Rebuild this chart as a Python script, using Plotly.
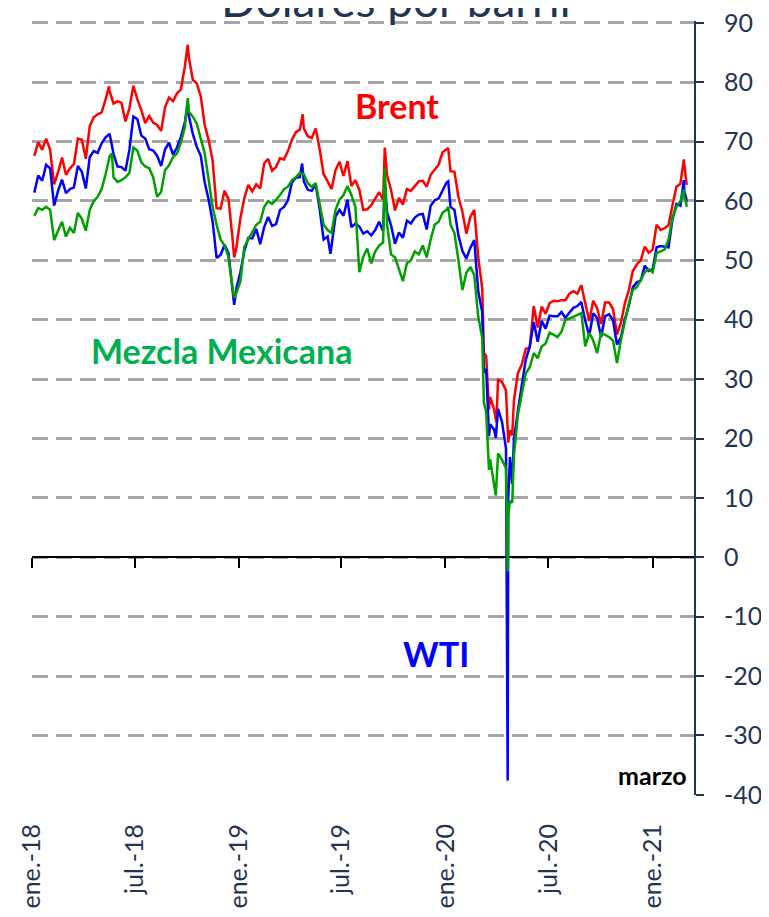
import pandas as pd
import plotly.graph_objects as go

# ---------------- data (weekly Friday closes, USD per barrel) ----------------
brent_2018 = [67.6, 69.9, 68.6, 70.5,
              68.6, 62.8, 64.8, 67.3,
              64.4, 65.5, 66.2, 70.5, 70.3,
              67.1, 72.6, 74.1, 74.6,
              74.9, 77.1, 78.5, 76.4,
              76.8, 76.5, 73.4, 75.6, 79.4,
              77.1, 75.3, 73.1, 74.3,
              73.2, 72.8, 71.8, 75.8, 77.4,
              76.8, 78.1, 78.8, 82.7,
              84.2, 80.4, 79.8, 77.6,
              72.8, 70.2, 66.8, 58.8, 58.7,
              61.7, 60.3, 53.8, 52.2]
brent_2019 = [57.1, 60.5, 62.7, 61.6,
              62.8, 62.1, 66.3, 67.1,
              65.1, 65.7, 67.2, 67.0, 68.4,
              70.3, 71.6, 72.0, 72.2,
              70.9, 70.6, 72.2, 68.7, 64.5,
              63.3, 62.0, 65.2, 66.6,
              64.2, 66.7, 62.5, 63.5,
              61.9, 58.5, 58.6, 59.3, 60.4,
              61.5, 60.2, 64.3, 61.9,
              58.4, 60.5, 59.4, 62.0,
              61.7, 62.5, 63.3, 63.4, 62.4,
              64.4, 65.2, 66.1, 68.2]
brent_2020 = [68.6, 65.0, 64.9, 60.7, 58.2,
              54.5, 57.3, 58.5, 50.5,
              45.3, 33.9, 27.0, 24.9,
              30.0, 29.5, 28.1, 21.4,
              26.4, 31.0, 32.5, 35.1, 35.3,
              42.3, 38.7, 42.2, 41.0,
              42.8, 43.2, 43.1, 43.3, 43.3,
              44.4, 44.8, 44.4, 45.8,
              42.7, 39.8, 43.2, 41.9,
              39.3, 42.9, 42.9, 41.8, 37.5,
              39.5, 42.8, 45.0, 48.2,
              49.3, 50.0, 52.3, 51.3]
brent_2021 = [51.8, 56.0, 55.1, 55.4, 55.9, 59.3, 62.4, 62.9, 66.1]

wti_2018 = [61.4, 64.3, 63.4, 66.1,
            65.5, 59.2, 61.7, 63.6,
            61.3, 62.0, 62.3, 65.9, 64.9,
            62.1, 67.4, 68.4, 68.1,
            69.7, 70.7, 71.3, 67.9,
            65.8, 65.7, 65.1, 68.6, 74.2,
            73.8, 71.0, 70.5, 68.7,
            68.5, 67.6, 65.9, 68.7, 69.8,
            67.8, 69.0, 70.8, 73.3,
            74.3, 71.3, 69.1, 67.6,
            63.1, 60.2, 56.5, 50.4, 50.9,
            52.6, 51.2, 45.6, 45.3]
wti_2019 = [48.0, 51.6, 53.8, 53.7,
            55.3, 52.7, 55.6, 57.3,
            55.8, 56.1, 58.5, 59.0, 60.1,
            63.1, 63.9, 64.0, 63.3,
            61.9, 61.7, 62.8, 58.6, 53.5,
            54.0, 52.5, 57.4, 58.5,
            57.5, 60.2, 55.6, 56.2,
            55.7, 54.5, 54.9, 54.2, 55.1,
            56.5, 54.9, 58.1, 55.9,
            52.8, 54.7, 53.8, 56.7,
            56.2, 57.2, 57.7, 57.8, 55.2,
            59.2, 60.1, 60.4, 61.7]
wti_2020 = [63.1, 59.0, 58.5, 54.2, 51.6,
            50.3, 52.1, 53.4, 44.8,
            41.3, 31.7, 22.4, 21.5,
            25.0, 22.8, 18.3, 16.9,
            19.8, 24.7, 29.4, 33.3, 35.5,
            39.6, 36.3, 39.8, 38.5,
            40.7, 40.6, 40.6, 41.3, 40.3,
            41.2, 42.0, 42.3, 43.0,
            39.8, 37.3, 41.1, 40.3,
            37.1, 40.6, 40.9, 39.9, 35.8,
            37.1, 40.1, 42.4, 45.5,
            46.3, 46.6, 49.1, 48.2]
wti_2021 = [48.5, 52.2, 52.4, 52.3, 52.2, 56.9, 59.5, 59.2, 61.5]

mme_2018 = [57.5, 58.8, 58.5, 59.0,
            58.5, 53.4, 55.0, 56.5,
            54.0, 55.5, 54.6, 58.0, 57.0,
            55.0, 58.5, 60.0, 60.7,
            62.0, 64.5, 67.5, 64.0,
            63.2, 63.5, 64.0, 64.7, 69.0,
            68.5, 66.5, 65.8, 65.5,
            64.0, 60.7, 61.5, 65.2, 66.0,
            67.4, 68.0, 69.8, 72.5,
            75.0, 74.2, 73.0, 70.5,
            68.0, 63.5, 59.0, 56.0, 53.5,
            52.5, 50.6, 45.5, 44.5]
mme_2019 = [46.5, 52.3, 53.5, 54.6,
            56.0, 56.5, 59.0, 60.0,
            59.5, 60.2, 61.0, 62.0, 62.4,
            63.5, 64.0, 64.7, 64.5,
            63.0, 62.4, 63.0, 59.7, 56.0,
            55.1, 54.6, 58.5, 60.2,
            61.0, 62.5, 61.0, 59.0,
            48.0, 50.6, 52.0, 49.5, 51.5,
            52.5, 53.0, 56.0, 51.0,
            50.5, 48.5, 46.5, 49.5,
            50.0, 51.5, 51.0, 52.5, 50.5,
            53.5, 56.0, 56.5, 58.0]
mme_2020 = [58.5, 56.0, 54.6, 50.0, 45.0,
            47.9, 48.9, 47.5, 40.5,
            37.0, 24.5, 16.5, 12.5,
            17.5, 16.4, 15.0, 9.5,
            17.0, 24.0, 27.7, 31.0, 32.0,
            34.4, 33.5, 35.5, 36.0,
            37.8, 37.5, 37.1, 38.0, 40.0,
            40.2, 40.5, 40.8, 41.1,
            35.5, 37.8, 36.5, 34.4,
            37.8, 37.5, 37.1, 36.5, 32.7,
            36.6, 40.0, 42.8, 45.0,
            45.5, 46.7, 48.0, 48.5]
mme_2021 = [48.0, 51.2, 51.5, 51.8, 53.5, 57.3, 59.0, 60.0, 60.5]

# notable daily values
brent_extra_dates = ["2018-05-17", "2018-10-03", "2018-12-24", "2019-04-24", "2019-09-16",
                     "2020-01-06", "2020-03-09", "2020-03-18", "2020-03-31", "2020-04-21",
                     "2020-04-22", "2020-04-28", "2021-02-25", "2021-03-01", "2021-03-02"]
brent_extra_vals = [79.3, 86.3, 50.5, 74.6, 69.0,
                    68.9, 34.4, 24.9, 22.7, 19.3,
                    20.4, 20.5, 67.0, 63.7, 62.7]
wti_extra_dates = ["2018-10-03", "2018-12-24", "2019-04-23", "2019-06-12", "2019-09-16",
                   "2020-01-06", "2020-03-09", "2020-03-18", "2020-03-30", "2020-04-20",
                   "2020-04-21", "2020-04-22", "2020-04-28", "2021-02-25", "2021-03-01",
                   "2021-03-02"]
wti_extra_vals = [76.4, 42.5, 66.3, 51.1, 62.9,
                  63.3, 31.1, 20.4, 20.1, -37.6,
                  10.0, 13.8, 12.3, 63.5, 60.6,
                  59.8]
mme_extra_dates = ["2018-05-22", "2018-10-03", "2018-12-24", "2019-09-16", "2020-01-06",
                   "2020-03-09", "2020-03-18", "2020-03-30", "2020-04-20", "2020-04-21",
                   "2020-04-22", "2020-04-28", "2021-02-25", "2021-03-01", "2021-03-02"]
mme_extra_vals = [68.0, 77.3, 43.7, 65.5, 59.0,
                  26.0, 14.7, 10.4, -2.4, 7.0,
                  8.0, 9.2, 61.9, 59.8, 59.0]

tick_dates = ["2018-01-01", "2018-07-01", "2019-01-01", "2019-07-01",
              "2020-01-01", "2020-07-01", "2021-01-01"]
tick_labels = ["ene.-18", "jul.-18", "ene.-19", "jul.-19", "ene.-20", "jul.-20", "ene.-21"]
y_ticks = [-40, -30, -20, -10, 0, 10, 20, 30, 40, 50, 60, 70, 80, 90]


def build(by_year, extra_dates, extra_vals):
    dates, vals = [], []
    for year, values in by_year:
        end = "2021-02-26" if year == 2021 else f"{year}-12-31"
        d = pd.date_range(f"{year}-01-01", end, freq="W-FRI")
        assert len(d) == len(values), (year, len(d), len(values))
        dates += list(d)
        vals += values
    s = pd.Series(vals, index=pd.DatetimeIndex(dates))
    e = pd.Series(extra_vals, index=pd.to_datetime(extra_dates))
    s = pd.concat([s, e])
    s = s[~s.index.duplicated(keep="last")].sort_index()
    return s


brent = build([(2018, brent_2018), (2019, brent_2019), (2020, brent_2020), (2021, brent_2021)],
              brent_extra_dates, brent_extra_vals)
wti = build([(2018, wti_2018), (2019, wti_2019), (2020, wti_2020), (2021, wti_2021)],
            wti_extra_dates, wti_extra_vals)
mme = build([(2018, mme_2018), (2019, mme_2019), (2020, mme_2020), (2021, mme_2021)],
            mme_extra_dates, mme_extra_vals)

NAVY = "#243352"
FONT = "Lato"
x_range = ["2018-01-01", "2021-03-15"]
y_range = [-40.02, 90.3]

fig = go.Figure()
fig.add_trace(go.Scatter(x=brent.index, y=brent.values, mode="lines",
                         line=dict(color="#FF0000", width=2.5), name="Brent"))
fig.add_trace(go.Scatter(x=wti.index, y=wti.values, mode="lines",
                         line=dict(color="#0000FF", width=2.5), name="WTI"))
fig.add_trace(go.Scatter(x=mme.index, y=mme.values, mode="lines", xaxis="x2",
                         line=dict(color="#00A000", width=2.5), name="Mezcla Mexicana"))

# page body has an 8px margin: size/margins compensate so the plot lands where the reference has it
fig.update_layout(
    width=761, height=909,
    margin=dict(l=24, r=75, t=13, b=122),
    paper_bgcolor="white", plot_bgcolor="white",
    showlegend=False, hovermode=False,
    xaxis=dict(type="date", range=x_range, tickvals=tick_dates, ticktext=tick_labels,
               tickangle=-90, showgrid=False, showline=False, zeroline=False, ticks="",
               tickfont=dict(family=FONT, size=25, color=NAVY), automargin=False,
               ticklabelstandoff=23, ticklabeloverflow="allow"),
    xaxis2=dict(type="date", overlaying="x", anchor="free",
                position=(0 - y_range[0]) / (y_range[1] - y_range[0]),
                range=x_range, tickvals=tick_dates, showticklabels=False,
                ticks="outside", ticklen=10, tickwidth=2, tickcolor="black",
                showline=True, linecolor="black", linewidth=2, showgrid=False,
                zeroline=False, layer="below traces", automargin=False),
    yaxis=dict(side="right", range=y_range, tickvals=y_ticks,
               ticktext=[str(v) for v in y_ticks],
               showgrid=True, gridcolor="#A6A6A6", gridwidth=2.5, griddash="16px,8px",
               zeroline=False, showline=True, linecolor=NAVY, linewidth=2,
               ticks="outside", ticklen=8, tickwidth=2, tickcolor=NAVY,
               tickfont=dict(family=FONT, size=25, color=NAVY),
               ticklabelstandoff=15, automargin=False, ticklabeloverflow="allow"),
)

fig.add_annotation(text="Dólares por barril", xref="paper", yref="paper",
                   x=0.5506, y=1.028, xanchor="center", yanchor="middle",
                   showarrow=False, font=dict(family=FONT, size=46, color=NAVY))
fig.add_annotation(text="<b>Brent</b>", x="2019-10-07", y=76.1, showarrow=False,
                   font=dict(family=FONT, size=34, color="#FF0000"))
fig.add_annotation(text="<b>Mezcla Mexicana</b>", x="2018-12-02", y=34.9, showarrow=False,
                   font=dict(family=FONT, size=34, color="#00B050"))
fig.add_annotation(text="<b>WTI</b>", x="2019-12-15", y=-16.2, showarrow=False,
                   font=dict(family=FONT, size=34, color="#0000FF"))
fig.add_annotation(text="<b>marzo</b>", x="2021-01-01", y=-36.6, showarrow=False,
                   font=dict(family=FONT, size=25, color="black"))

fig.write_html("out.html")
